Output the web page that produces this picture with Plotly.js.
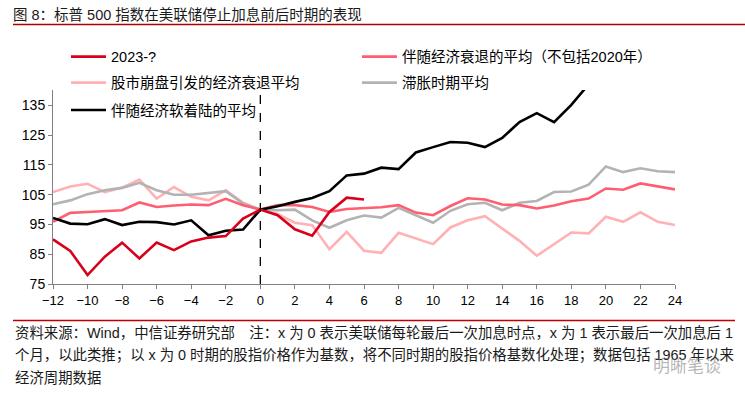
<!DOCTYPE html>
<html><head><meta charset="utf-8">
<script src="https://cdn.plot.ly/plotly-3.0.1.min.js"></script>
<style>html,body{margin:0;padding:0;background:#fff;}#chart{width:745px;height:396px;}</style>
</head><body><div id="chart"></div>
<script>
// ---- data ----
const months = [-12,-11,-10,-9,-8,-7,-6,-5,-4,-3,-2,-1,0,1,2,3,4,5,6,7,8,9,10,11,12,13,14,15,16,17,18,19,20,21,22,23,24];
const xTickVals = [-12,-10,-8,-6,-4,-2,0,2,4,6,8,10,12,14,16,18,20,22,24];
const yTickVals = [75,85,95,105,115,125,135];

const s2023 = [90.0,86.1,78.0,84.2,88.9,83.6,88.9,86.4,89.3,90.6,91.1,97.0,100,98.1,93.4,91.2,99.2,104.0,103.4];
const recessionAvg = [95.9,98.9,99.2,99.5,99.8,102.4,100.9,101.4,101.7,101.5,103.6,101.5,100,
  101.5,101.5,100.9,99.2,100.2,100.6,100.8,101.5,99.0,98.1,101.2,103.8,103.4,101.7,101.5,100.4,101.4,102.8,103.7,107.1,106.7,108.8,107.8,106.8];
const crashAvg = [105.9,107.8,108.7,105.9,107.4,110.1,103.7,107.6,104.3,103.1,106.5,102.3,100,
  98.5,95.6,94.8,86.7,92.5,86.2,85.5,92.2,90.3,88.4,94.0,96.4,97.8,93.7,89.5,84.5,88.3,92.3,92.0,97.6,95.9,99.1,95.9,94.8];
const stagflationAvg = [101.8,103.1,105.2,106.5,107.3,109.0,106.5,105.0,105.0,105.7,106.2,102.0,100,
  99.8,100.0,96.4,93.9,96.4,98.0,97.3,100.6,98.1,95.6,99.6,101.8,102.3,99.8,102.3,102.9,105.9,106.1,108.4,114.5,112.6,113.9,112.9,112.6];
const softLandingAvg = [97.2,95.3,95.1,96.8,94.8,95.9,95.8,95.0,96.4,91.4,92.9,93.3,100,
  101.1,102.6,103.9,106.2,111.5,112.1,114.1,113.6,119.2,121.0,122.7,122.5,121.0,124.1,129.4,132.4,129.4,135.2,142.1];

const names = {
  s2023: '2023-?',
  recession: '伴随经济衰退的平均（不包括2020年）',
  crash: '股市崩盘引发的经济衰退平均',
  stag: '滞胀时期平均',
  soft: '伴随经济软着陆的平均'
};
const titleText = '图 8：标普 500 指数在美联储停止加息前后时期的表现';
const footLines = [
  '资料来源：Wind，中信证券研究部　注：x 为 0 表示美联储每轮最后一次加息时点，x 为 1 表示最后一次加息后 1',
  '个月，以此类推；以 x 为 0 时期的股指价格作为基数，将不同时期的股指价格基数化处理；数据包括 1965 年以来',
  '经济周期数据'
];

// ---- layout helpers ----
const W = 745, H = 396;
const M = {l:53, r:70, t:90, b:112, autoexpand:false};
const PW = W - M.l - M.r, PH = H - M.t - M.b;
const px = v => (v - M.l) / PW;
const py = v => (H - M.b - v) / PH;
const FONT = 'Liberation Sans, Arial, Noto Sans CJK SC, sans-serif';
const LW = 2.6;

function tr(y, n, color, legend) {
  return {x: months.slice(0, y.length), y: y, name: n, type: 'scatter', mode: 'lines',
    line: {color: color, width: LW}, legend: legend, hoverinfo: 'skip'};
}
const data = [
  tr(crashAvg, names.crash, '#ffb1b4', 'legend3'),
  tr(stagflationAvg, names.stag, '#b3b3b3', 'legend4'),
  tr(recessionAvg, names.recession, '#ff5d70', 'legend2'),
  tr(softLandingAvg, names.soft, '#000000', 'legend5'),
  tr(s2023, names.s2023, '#d9001b', 'legend')
];

function leg(xpx, ypx) {
  return {xref:'paper', yref:'paper', x: px(xpx), y: py(ypx),
    xanchor:'left', yanchor:'middle', bgcolor:'rgba(0,0,0,0)', borderwidth:0,
    font:{family: FONT, size: 14.5, color:'#000'}, itemwidth: 35};
}

const axisCommon = {showgrid:false, zeroline:false, showline:true, linecolor:'#808080', linewidth:1,
  ticks:'outside', ticklen:4, tickcolor:'#808080', tickwidth:1, fixedrange:true};

const FOOT = 14.4;
const layout = {
  width: W, height: H, margin: M, paper_bgcolor:'#fff', plot_bgcolor:'#fff',
  font: {family: FONT, color:'#000'},
  title: {text: titleText, xref:'container', yref:'container', x: 13/W, xanchor:'left',
    y: 1 - 15/H, yanchor:'middle', font:{family: FONT, size:14.5, color:'#1a1a1a'}},
  xaxis: Object.assign({}, axisCommon, {range:[-12, 24], tickmode:'array', tickvals: xTickVals,
    tickfont:{family: FONT, size:13, color:'#000'}}),
  yaxis: Object.assign({}, axisCommon, {range:[75, 140.2], tickmode:'array', tickvals: yTickVals,
    tickfont:{family: FONT, size:14, color:'#000'}}),
  showlegend: true,
  legend: leg(66, 56.7),
  legend2: leg(357, 56.7),
  legend3: leg(66, 82.7),
  legend4: leg(357, 82.7),
  legend5: leg(66, 110),
  shapes: [
    {type:'line', xref:'x', yref:'paper', x0:0, x1:0, y0:0, y1:1.005, line:{color:'#000', width:1.3, dash:'dash'}},
    {type:'line', xref:'paper', yref:'paper', x0:px(13), x1:px(745), y0:py(24.5), y1:py(24.5), line:{color:'#b00000', width:1.3}},
    {type:'line', xref:'paper', yref:'paper', x0:px(13), x1:px(735), y0:py(320.5), y1:py(320.5), line:{color:'#c00000', width:1.3}}
  ],
  annotations: [
    {xref:'paper', yref:'paper', x:px(13), y:py(333), xanchor:'left', yanchor:'middle', showarrow:false,
      text: footLines[0], font:{family: FONT, size:FOOT, color:'#1a1a1a'}},
    {xref:'paper', yref:'paper', x:px(13), y:py(355.5), xanchor:'left', yanchor:'middle', showarrow:false,
      text: footLines[1], font:{family: FONT, size:FOOT, color:'#1a1a1a'}},
    {xref:'paper', yref:'paper', x:px(13), y:py(378), xanchor:'left', yanchor:'middle', showarrow:false,
      text: footLines[2], font:{family: FONT, size:FOOT, color:'#1a1a1a'}},
    {xref:'paper', yref:'paper', x:px(687), y:py(364), xanchor:'center', yanchor:'middle', showarrow:false,
      text: '明晰笔谈', font:{family: 'Noto Sans CJK SC, sans-serif', size:17, color:'rgba(120,120,120,0.55)'}}
  ]
};

Plotly.newPlot('chart', data, layout, {staticPlot:true, displayModeBar:false});
</script>
</body></html>
